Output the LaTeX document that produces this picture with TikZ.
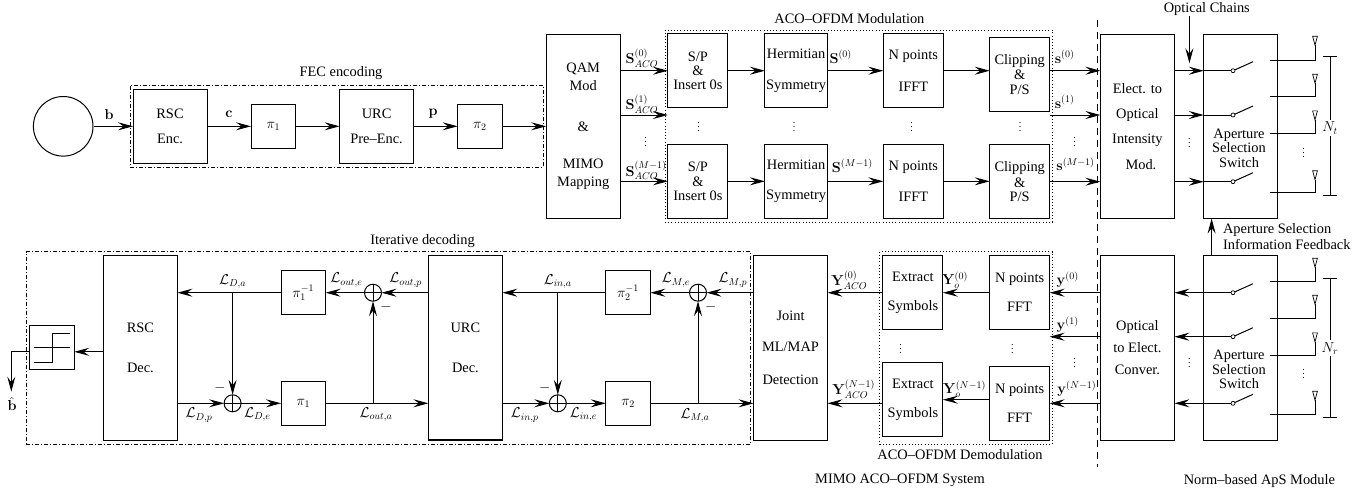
\documentclass[tikz,border=0pt]{standalone}
\usepackage[no-math]{fontspec}
\setmainfont{Liberation Serif}
\usepackage{tikz}
\usetikzlibrary{arrows.meta,positioning,shapes.geometric}

\begin{document}
\begin{tikzpicture}[
  x=1pt, y=-1pt,
  font=\fontsize{14.4}{14.4}\selectfont,
  line width=1pt,
  box/.style={draw, align=center, inner sep=1pt, outer sep=0pt, minimum width=60pt, minimum height=74pt},
  wide/.style={box, minimum width=74pt},
  tall/.style={wide, minimum height=184.6pt},
  small/.style={box, minimum width=44.6pt, minimum height=44pt},
  lab/.style={inner sep=0pt, outer sep=0pt, align=center},
  frame/.style={draw, line width=0.8pt, dash pattern=on 4pt off 2pt on 1pt off 2pt},
  dotframe/.style={draw, line width=0.8pt, dash pattern=on 1pt off 2.2pt},
  arrow/.style={-{Stealth[length=15pt,width=8pt,inset=5.5pt]}},
  adder/.style={draw, circle, inner sep=0pt, outer sep=0pt, minimum size=17pt,
    path picture={\draw[line width=0.7pt] (path picture bounding box.north) -- (path picture bounding box.south)
      (path picture bounding box.west) -- (path picture bounding box.east);}},
  swdot/.style={draw, circle, inner sep=0pt, outer sep=0pt, minimum size=4pt, line width=0.7pt},
  antenna/.style={draw, isosceles triangle, isosceles triangle apex angle=30, shape border rotate=-90,
    inner sep=0pt, outer sep=0pt, minimum height=9pt, line width=0.7pt},
  dotsnode/.style={inner sep=0pt, yshift=3pt, font=\fontsize{10}{10}\selectfont}
]
\useasboundingbox (0,0) rectangle (1364,491);

\node[frame, minimum width=413.5pt, minimum height=81.3pt] (fecframe) at (336.8,126.3) {};
\node[dotframe, minimum width=387.4pt, minimum height=192pt] (modframe) at (858.7,126) {};
\node[frame, minimum width=724.7pt, minimum height=192.3pt] (decframe) at (388.4,347.8) {};
\node[dotframe, minimum width=172.6pt, minimum height=192.3pt] (demframe) at (966.1,347.8) {};

\node[draw, circle, inner sep=0pt, minimum size=59.6pt] (src) at (63.2,126.3) {};
\node[wide] (rscenc) at (170,126.3) {RSC\\[11.5pt]Enc.};
\node[small, right=44pt of rscenc] (pienc1) {$\pi_1$};
\node[wide, right=44pt of pienc1] (urcenc) {URC\\[11.5pt]Pre–Enc.};
\node[small, right=44pt of urcenc] (pienc2) {$\pi_2$};
\node[tall, right=44pt of pienc2] (qam) {QAM\\[3.5pt]Mod\\[26pt]\&\\[23pt]MIMO\\[3pt]Mapping};

\node[box] (spa) at (697.9,70.7) {S/P\\\&\\Insert 0s};
\node[box, minimum width=62.4pt, right=37pt of spa] (herma) {Hermitian\\[16pt]Symmetry};
\node[box, right=56pt of herma] (iffta) {N points\\[18pt]IFFT};
\node[box] (clipa) at (1019.7,74.3) {Clipping\\[1.5pt]\&\\P/S};
\node[box, below=36.6pt of spa] (spb) {S/P\\\&\\Insert 0s};
\node[box, minimum width=62.4pt, below=36.6pt of herma] (hermb) {Hermitian\\[16pt]Symmetry};
\node[box, below=36.6pt of iffta] (ifftb) {N points\\[16pt]IFFT};
\node[box] (clipb) at (1019.7,181.5) {Clipping\\[1.5pt]\&\\P/S};

\node[tall] (elect) at (1137.4,126.3) {Elect. to\\[11pt]Optical\\[11pt]Intensity\\[11pt]\hspace*{7pt}Mod.};
\node[tall, right=29.4pt of elect] (aptx) {};
\node[lab] (aptxtxt) at (1239,148) {Aperture\\Selection\\Switch};

\coordinate (rowa) at (0,70.7);
\coordinate (rowb) at (0,115);
\coordinate (rowc) at (0,181.7);

\draw[arrow] (src) -- (rscenc);
\draw[arrow] (rscenc) -- (pienc1);
\draw[arrow] (pienc1) -- (urcenc);
\draw[arrow] (urcenc) -- (pienc2);
\draw[arrow] (pienc2) -- (qam);
\draw[arrow] (qam.east |- spa) -- (spa.west);
\draw[arrow] (qam.east |- rowb) -- (spa.west |- rowb);
\draw[arrow] (qam.east |- spb) -- (spb.west);
\draw[arrow] (spa) -- (herma);
\draw[arrow] (herma) -- (iffta);
\draw[arrow] (iffta.east) -- (clipa.west |- iffta);
\draw[arrow] (spb) -- (hermb);
\draw[arrow] (hermb) -- (ifftb);
\draw[arrow] (ifftb.east) -- (clipb.west |- ifftb);
\draw[arrow] (clipa.east |- rowa) -- (elect.west |- rowa);
\draw[arrow] (clipa.east |- rowb) -- (elect.west |- rowb);
\draw[arrow] (clipb.east |- rowc) -- (elect.west |- rowc);

\foreach \n/\r in {txa/rowa,txb/rowb,txc/rowc} {
  \node[swdot] (\n) at (1233,0 |- \r) {};
  \draw[arrow] (elect.east |- \r) -- (aptx.west |- \r);
  \draw (aptx.west |- \r) -- (\n);
  \coordinate (\n e) at ([shift={(20,-9)}]\n.center);
  \draw (\n) -- (\n e);
}
\foreach \n/\ya/\yb in {1/38/60,2/76/96.7,3/112.7/133.3,4/172.5/192.3} {
  \node[antenna] (anttx\n) at (1315,\ya) {};
  \coordinate (wiretx\n) at (1270,\yb);
  \draw (anttx\n.apex) |- (wiretx\n);
}
\coordinate (nta) at (1330,56);
\coordinate (ntb) at (1330,196);
\draw[{Bar[width=14pt]}-{Bar[width=14pt]}] (nta) -- (ntb);
\node[lab, fill=white, inner ysep=2pt] (ntlab) at (1330,128) {$N_t$};

\node[tall] (rscdec) at (140.4,347.8) {RSC\\[26pt]Dec.};
\node[small, left=29.2pt of rscdec] (hard) {};
\node[small] (piinva) at (303.3,292.7) {$\pi_1^{-1}$};
\node[small] (pideca) at (303.3,403.3) {$\pi_1$};
\node[tall, line width=1.3pt] (urcdec) at (465.4,347.8) {URC\\[26pt]Dec.};
\node[small] (piinvb) at (628,292.7) {$\pi_2^{-1}$};
\node[small] (pidecb) at (628,403.3) {$\pi_2$};
\node[tall] (joint) at (790.5,347.8) {Joint\\[16pt]ML/MAP\\[18.5pt]Detection};

\node[adder] (addoa) at (373,292.7) {};
\node[adder] (addma) at (698,292.7) {};
\node[adder] (adddb) at (232.6,403.3) {};
\node[adder] (addib) at (557.8,403.3) {};

\node[box] (exta) at (912.9,292.4) {Extract\\[14.5pt]Symbols};
\node[box] (fftta) at (1019.6,292.4) {N points\\[14.5pt]FFT};
\node[box] (extb) at (912.9,399.7) {Extract\\[14.5pt]Symbols};
\node[box] (ffttb) at (1019.6,403.2) {N points\\[14.5pt]FFT};
\node[tall] (conver) at (1137.4,347.8) {Optical\\[7.5pt]to Elect.\\[7.5pt]Conver.};
\node[tall, right=29.4pt of conver] (aprx) {};
\node[lab] (aprxtxt) at (1239,369.5) {Aperture\\Selection\\Switch};

\coordinate (rowd) at (0,292.7);
\coordinate (rowe) at (0,336.7);
\coordinate (rowf) at (0,403.3);

\draw[arrow] (rscdec.west |- hard) ++(0,4) coordinate (hardin) -- (hard.east |- hardin);
\coordinate (outc) at (11.3,351.7);
\coordinate (outd) at (11.3,391.7);
\draw (hard.west |- outc) -- (outc);
\draw[arrow] (outc) -- (outd);

\draw[arrow] (addoa) -- (piinva);
\draw[arrow] (piinva) -- (rscdec.east |- piinva);
\draw[arrow] (urcdec.west |- addoa) -- (addoa);
\draw[arrow] (piinvb) -- (urcdec.east |- piinvb);
\draw[arrow] (addma) -- (piinvb);
\draw[arrow] (joint.west |- addma) -- (addma);
\draw[arrow] (rscdec.east |- adddb) -- (adddb);
\draw[arrow] (adddb) -- (pideca);
\draw[arrow] (pideca) -- (urcdec.west |- pideca);
\draw[arrow] (urcdec.east |- addib) -- (addib);
\draw[arrow] (addib) -- (pidecb);
\draw[arrow] (pidecb) -- (joint.west |- pidecb);
\draw[arrow] (adddb |- piinva) -- (adddb);
\draw[arrow] (addib |- piinvb) -- (addib);
\draw[arrow] (addoa |- pideca) -- (addoa);
\draw[arrow] (addma |- pidecb) -- (addma);

\draw[arrow] (exta.west |- rowd) -- (joint.east |- rowd);
\draw[arrow] (extb.west |- rowf) -- (joint.east |- rowf);
\draw[arrow] (fftta.west |- rowd) -- (exta.east |- rowd);
\draw[arrow] (ffttb.west |- extb) -- (extb.east);
\draw[arrow] (conver.west |- rowd) -- (fftta.east |- rowd);
\draw[arrow] (conver.west |- rowe) -- (fftta.east |- rowe);
\draw[arrow] (conver.west |- rowf) -- (ffttb.east |- rowf);

\foreach \n/\r in {rxa/rowd,rxb/rowe,rxc/rowf} {
  \node[swdot] (\n) at (1233,0 |- \r) {};
  \draw[arrow] (aprx.west |- \r) -- (conver.east |- \r);
  \draw (\n) -- (aprx.west |- \r);
  \coordinate (\n e) at ([shift={(20,-9)}]\n.center);
  \draw (\n) -- (\n e);
}
\foreach \n/\ya/\yb in {1/260/281.7,2/297/318.3,3/334.7/355,4/393/414.3} {
  \node[antenna] (antrx\n) at (1315,\ya) {};
  \coordinate (wirerx\n) at (1270,\yb);
  \draw (antrx\n.apex) |- (wirerx\n);
}
\coordinate (nra) at (1330,277.7);
\coordinate (nrb) at (1330,417.7);
\draw[{Bar[width=14pt]}-{Bar[width=14pt]}] (nra) -- (nrb);
\node[lab, fill=white, inner ysep=2pt] (nrlab) at (1330,348.3) {$N_r$};

\draw[arrow] (aprx.north -| 1211.6,0) coordinate (fbk) -- (aptx.south -| fbk);
\coordinate (chaina) at (1189.4,16);
\coordinate (chainb) at (1189.4,63.3);
\draw[arrow] (chaina) -- (chainb);
\coordinate (sepa) at (1097,20);
\coordinate (sepb) at (1097,466.7);
\draw[dash pattern=on 7pt off 5pt] (sepa) -- (sepb);

\coordinate (stpa) at (34,362.7);
\coordinate (stpb) at (52.2,362.7);
\coordinate (stpc) at (52.2,333.3);
\coordinate (stpd) at (70.4,333.3);
\coordinate (stpe) at (34,347.7);
\coordinate (stpf) at (70.4,347.7);
\draw (stpa) -- (stpb) -- (stpc) -- (stpd);
\draw (stpe) -- (stpf);

\foreach \n/\x/\y in {da/645.7/141.7,db/698.5/126.7,dc/794/126.7,dd/911.6/126.7,de/1020/126.7,df/1074.6/141.7,dg/1189.4/143,dh/1303.7/153,
  di/900.7/349,dj/1012.4/349,dk/1074.6/362.7,dl/1189.4/363.3,dm/1303.7/374} {
  \node[dotsnode] (\n) at (\x,\y) {$\vdots$};
}

\node[lab] (fectxt) at (341,73.3) {FEC encoding};
\node[lab] (modtxt) at (849.4,19) {ACO–OFDM Modulation};
\node[lab] (chaintxt) at (1206.8,9) {Optical Chains};
\node[lab, align=left, anchor=west] (fbktxt) at (1223,236.5) {Aperture Selection\\[1pt]Information Feedback};
\node[lab] (dectxt) at (422.6,241) {Iterative decoding};
\node[lab] (demtxt) at (960,454.3) {ACO–OFDM Demodulation};
\node[lab] (systxt) at (900,480.7) {MIMO ACO–OFDM System};
\node[lab] (apstxt) at (1259.4,480.7) {Norm–based ApS Module};

\node[lab] (blab) at (109,114) {$\mathbf{b}$};
\node[lab] (clab) at (229,114) {$\mathbf{c}$};
\node[lab] (plab) at (433,114) {$\mathbf{p}$};
\node[lab] (bhat) at (12,404) {$\hat{\mathbf{b}}$};

\node[lab] (sacoa) at (642,58) {$\mathbf{S}_{ACO}^{(0)}$};
\node[lab] (sacob) at (642,104) {$\mathbf{S}_{ACO}^{(1)}$};
\node[lab] (sacoc) at (646,170.7) {$\mathbf{S}_{ACO}^{(M-1)}$};
\node[lab] (hsa) at (840.7,56.7) {$\mathbf{S}^{(0)}$};
\node[lab] (hsb) at (852.4,165.7) {$\mathbf{S}^{(M-1)}$};
\node[lab] (ssa) at (1064.6,56.7) {$\mathbf{s}^{(0)}$};
\node[lab] (ssb) at (1064.6,101.7) {$\mathbf{s}^{(1)}$};
\node[lab] (ssc) at (1075.5,164.3) {$\mathbf{s}^{(M-1)}$};

\node[lab] (yacoa) at (849.4,280) {$\mathbf{Y}_{ACO}^{(0)}$};
\node[lab] (yacob) at (853.7,389) {$\mathbf{Y}_{ACO}^{(N-1)}$};
\node[lab] (yoa) at (955,280) {$\mathbf{Y}_{o}^{(0)}$};
\node[lab] (yob) at (964.6,389) {$\mathbf{Y}_{o}^{(N-1)}$};
\node[lab] (yya) at (1067.7,280) {$\mathbf{y}^{(0)}$};
\node[lab] (yyb) at (1067.7,325) {$\mathbf{y}^{(1)}$};
\node[lab] (yyc) at (1076.8,389) {$\mathbf{y}^{(N-1)}$};

\node[lab] (lda) at (232.6,281.7) {$\mathcal{L}_{D,a}$};
\node[lab] (loe) at (346.5,280) {$\mathcal{L}_{out,e}$};
\node[lab] (lop) at (405.7,280) {$\mathcal{L}_{out,p}$};
\node[lab] (lia) at (557.8,281.7) {$\mathcal{L}_{in,a}$};
\node[lab] (lme) at (676,280) {$\mathcal{L}_{M,e}$};
\node[lab] (lmp) at (732.9,280) {$\mathcal{L}_{M,p}$};
\node[lab] (ldp) at (199,415) {$\mathcal{L}_{D,p}$};
\node[lab] (lde) at (257.4,414.3) {$\mathcal{L}_{D,e}$};
\node[lab] (loa) at (376,414.3) {$\mathcal{L}_{out,a}$};
\node[lab] (lip) at (524.8,415) {$\mathcal{L}_{in,p}$};
\node[lab] (lie) at (583.5,414.3) {$\mathcal{L}_{in,e}$};
\node[lab] (lma) at (695,415.7) {$\mathcal{L}_{M,a}$};

\node[lab] (ma) at (386,307.3) {$-$};
\node[lab] (mb) at (710.7,307.3) {$-$};
\node[lab] (mc) at (220,388.3) {$-$};
\node[lab] (md) at (544.8,388.3) {$-$};
\end{tikzpicture}
\end{document}
